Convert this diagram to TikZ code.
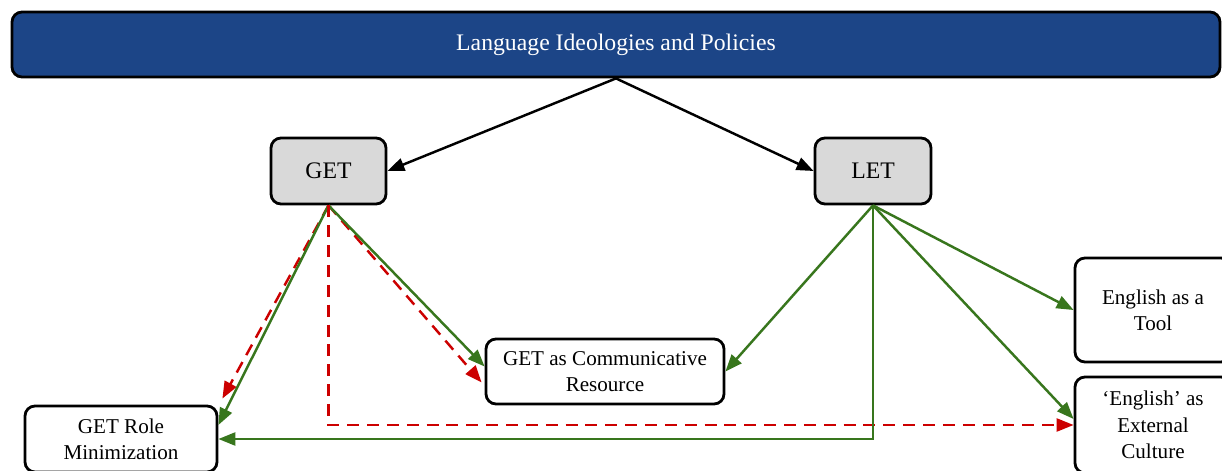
\documentclass[tikz,border=0pt]{standalone}
\usepackage{fontspec}
\setmainfont{Liberation Serif}
\usepackage{tikz}
\usetikzlibrary{arrows.meta,calc,positioning}

\definecolor{ideoblue}{HTML}{1C4587}
\definecolor{boxgray}{HTML}{D9D9D9}
\definecolor{linkgreen}{HTML}{38761D}
\definecolor{linkred}{HTML}{CC0000}

\begin{document}
\begin{tikzpicture}[
    >={Triangle[length=0.34cm,width=0.26cm]},
    topbox/.style={draw=black, line width=1.6pt, rounded corners=2mm, fill=ideoblue, text=white, minimum width=24.16cm, minimum height=1.3cm, font=\fontsize{13.5}{16}\selectfont},
    levelbox/.style={draw=black, line width=1.6pt, rounded corners=2mm, fill=boxgray, minimum width=2.3cm, minimum height=1.32cm, font=\fontsize{13.5}{16}\selectfont},
    themebox/.style={draw=black, line width=1.6pt, rounded corners=2mm, fill=white, align=center, inner sep=0pt, font=\fontsize{12}{15}\selectfont},
    flow/.style={->, line width=1.4pt, draw=black},
    supportlink/.style={->, line width=1.4pt, draw=linkgreen},
    conflictlink/.style={->, line width=1.4pt, draw=linkred, dash pattern=on 6.8pt off 4.5pt}
]
\useasboundingbox (0,0) rectangle (24.44,9.4);
\clip (0,0) rectangle (24.44,9.4);
\fill[white] (0,0) rectangle (24.44,9.4);

% Top banner
\node[topbox] (ideo) at (12.32,8.51) {Language Ideologies and Policies};

% GET and LET
\node[levelbox] (get) at (6.57,5.98) {GET};
\node[levelbox, minimum width=2.32cm] (let) at (17.46,5.98) {LET};
\draw[flow] (ideo.south) -- (get.east);
\draw[flow] (ideo.south) -- (let.west);

% Themes
\node[themebox, minimum width=3.84cm, minimum height=1.32cm] (role) at (2.42,0.62) {GET Role\\Minimization};
\node[themebox, minimum width=4.76cm, minimum height=1.3cm] (comm) at (12.1,1.97) {GET as Communicative\\Resource};
\node[themebox, minimum width=3.12cm, minimum height=2.08cm] (tool) at (23.06,3.2) {English as a\\Tool};
\node[themebox, minimum width=3.12cm, minimum height=1.92cm] (ext) at (23.06,0.9) {`English' as\\External\\Culture};

% GET links
\draw[conflictlink] (get.south) -- ([shift={(0.08,0.12)}]role.north east);
\draw[supportlink] (get.south) -- ([yshift=0.28cm]role.east);
\draw[conflictlink] (get.south) -- ([shift={(-0.06,-0.22)}]comm.west);
\draw[supportlink] (get.south) -- ([yshift=0.1cm]comm.west);
\draw[conflictlink] (get.south) |- (ext.west);

% LET links
\draw[supportlink] (let.south) -- (comm.east);
\draw[supportlink] (let.south) |- (role.east);
\draw[supportlink] (let.south) -- (tool.west);
\draw[supportlink] (let.south) -- ([yshift=0.12cm]ext.west);

\end{tikzpicture}
\end{document}
